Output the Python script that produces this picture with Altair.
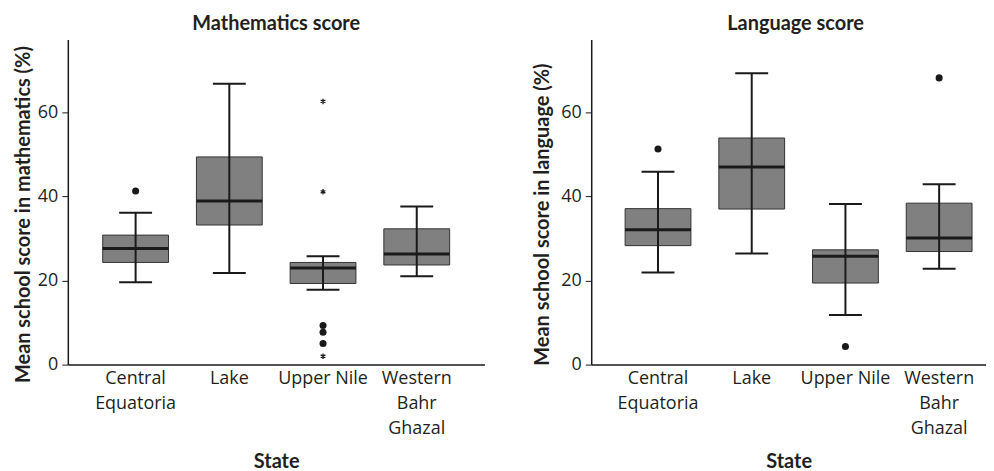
import altair as alt
import pandas as pd

states = ["Central Equatoria", "Lake", "Upper Nile", "Western Bahr Ghazal"]

# Mathematics score
math_low = [19.6, 21.8, 17.8, 21.0]
math_q1 = [24.3, 33.2, 19.3, 23.7]
math_median = [27.6, 38.9, 23.0, 26.3]
math_q3 = [30.8, 49.4, 24.3, 32.3]
math_high = [36.1, 66.8, 25.8, 37.6]
math_outlier_states = ["Central Equatoria", "Upper Nile", "Upper Nile", "Upper Nile"]
math_outlier_values = [41.3, 9.3, 7.7, 5.0]
math_extreme_states = ["Upper Nile", "Upper Nile", "Upper Nile"]
math_extreme_values = [62.6, 41.1, 2.0]

# Language score
lang_low = [21.9, 26.4, 11.8, 22.8]
lang_q1 = [28.3, 37.0, 19.4, 26.9]
lang_median = [32.1, 47.0, 25.8, 30.1]
lang_q3 = [37.1, 53.9, 27.3, 38.4]
lang_high = [45.9, 69.3, 38.2, 42.9]
lang_outlier_states = ["Central Equatoria", "Upper Nile", "Western Bahr Ghazal"]
lang_outlier_values = [51.3, 4.3, 68.2]
lang_extreme_states = []
lang_extreme_values = []

LABEL_FONT = "Open Sans"
TITLE_FONT = "Lato"
TEXT = "#231f20"
BOX_FILL = "#808080"
STAR = "M0,-1L0,1M-0.87,-0.5L0.87,0.5M-0.87,0.5L0.87,-0.5"


def panel(title, ytitle, low, q1, med, q3, high, out_s, out_v, ext_s, ext_v,
          width, pad_outer, align, title_dx, ytitle_pad):
    box = pd.DataFrame({"state": states, "low": low, "q1": q1, "median": med,
                        "q3": q3, "high": high})
    outl = pd.DataFrame({"state": out_s, "value": out_v})
    ext = pd.DataFrame({"state": ext_s, "value": ext_v})

    xscale = alt.Scale(domain=states, paddingInner=0, paddingOuter=pad_outer, align=align)
    x_axis = alt.Axis(
        title="State", labelAngle=0, ticks=False, labelPadding=5,
        labelBaseline="top", labelLineHeight=25, titlePadding=14,
        labelExpr="datum.value == 'Upper Nile' ? datum.value : split(datum.value, ' ')",
    )
    x = alt.X("state:N", sort=states, scale=xscale, axis=x_axis)
    yscale = alt.Scale(domain=[0, 77.3], nice=False, zero=True)
    y_axis = alt.Axis(title=ytitle, values=[0, 20, 40, 60], tickSize=6,
                      labelPadding=4, titlePadding=ytitle_pad, titleY=175)

    def Y(field):
        return alt.Y(field, scale=yscale, axis=y_axis)

    bars = alt.Chart(box).mark_bar(size=66, color=BOX_FILL, stroke="#333333",
                                   strokeWidth=1).encode(
        x=x, y=Y("q1:Q"), y2="q3:Q")
    whisk = alt.Chart(box).mark_rule(color="#1a1a1a", strokeWidth=2).encode(
        x=x, y=Y("low:Q"), y2="high:Q")
    med_t = alt.Chart(box).mark_tick(size=66, thickness=3, color="#1a1a1a", opacity=1).encode(
        x=x, y=Y("median:Q"))
    cap_lo = alt.Chart(box).mark_tick(size=33, thickness=2, color="#1a1a1a", opacity=1).encode(
        x=x, y=Y("low:Q"))
    cap_hi = alt.Chart(box).mark_tick(size=33, thickness=2, color="#1a1a1a", opacity=1).encode(
        x=x, y=Y("high:Q"))
    dots = alt.Chart(outl).mark_circle(size=50, color="#1a1a1a", opacity=1).encode(
        x=x, y=Y("value:Q"))
    layers = [bars, whisk, med_t, cap_lo, cap_hi, dots]
    if len(ext_v):
        stars = alt.Chart(ext).mark_point(shape=STAR, size=30, filled=False,
                                          stroke="#1a1a1a", strokeWidth=1.3,
                                          opacity=1).encode(
            x=x, y=Y("value:Q"))
        layers.append(stars)

    return alt.layer(*layers).properties(
        width=width, height=326,
        title=alt.TitleParams(title, fontSize=20, fontWeight="bold", font=TITLE_FONT,
                              color=TEXT, anchor="middle", offset=6, dx=title_dx),
    )


left = panel("Mathematics score", "Mean school score in mathematics (%)",
             math_low, math_q1, math_median, math_q3, math_high,
             math_outlier_states, math_outlier_values,
             math_extreme_states, math_extreme_values,
             418, 0.2234, 0.5, 0, 4)
right = panel("Language score", "Mean school score in language (%)",
              lang_low, lang_q1, lang_median, lang_q3, lang_high,
              lang_outlier_states, lang_outlier_values,
              lang_extreme_states, lang_extreme_values,
              396, 0.1064, 1, 7, 8)

chart = alt.hconcat(left, right, spacing=48).properties(
    padding={"left": 5, "top": 5, "right": 0, "bottom": 0}
).configure_view(stroke=None).configure_axis(
    labelFont=LABEL_FONT, titleFont=TITLE_FONT, labelFontSize=18, titleFontSize=20,
    titleFontWeight="bold", labelColor=TEXT, titleColor=TEXT,
    domainColor="#1a1a1a", tickColor="#1a1a1a", domainWidth=1.5, grid=False,
)

chart.save("out.html", embed_options={"renderer": "svg", "actions": False})
